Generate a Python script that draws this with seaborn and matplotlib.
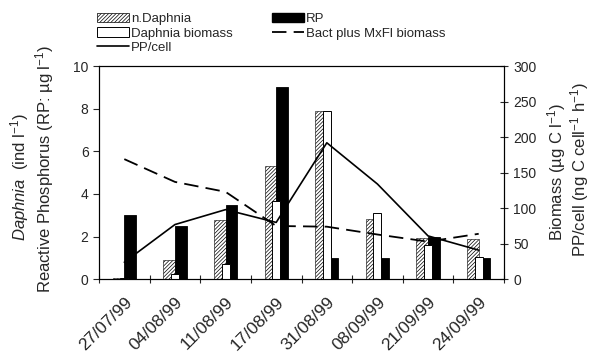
import numpy as np
import pandas as pd
import matplotlib
matplotlib.use("Agg")
import matplotlib.pyplot as plt
import seaborn as sns
from matplotlib.patches import Patch
from matplotlib.lines import Line2D

# ---- data ----
dates = ["27/07/99", "04/08/99", "11/08/99", "17/08/99",
         "31/08/99", "08/09/99", "21/09/99", "24/09/99"]
n_daphnia = [0.08, 0.9, 2.8, 5.3, 7.87, 2.85, 1.92, 1.9]          # ind l-1 (left)
rp = [3.0, 2.5, 3.5, 9.0, 1.0, 1.0, 2.0, 1.0]                      # ug l-1 (left)
daphnia_biomass = [2, 7, 22, 110, 237, 93, 48, 31]                 # ug C l-1 (right)
pp_cell = [24, 77, 98, 80, 192, 134, 61, 41]                       # right
bact_mxfl = [169, 137, 123, 75, 74, 63, 53, 64]                    # right

left_ticks = [0, 2, 4, 6, 8, 10]
right_ticks = [0, 50, 100, 150, 200, 250, 300]

sns.set_style("white")
plt.rcParams["font.family"] = ["Liberation Sans", "DejaVu Sans"]
plt.rcParams["mathtext.fontset"] = "custom"
plt.rcParams["mathtext.rm"] = "Liberation Sans"
plt.rcParams["mathtext.it"] = "Liberation Sans:italic"
plt.rcParams["hatch.linewidth"] = 0.5

HATCH = "/////////"

fig = plt.figure(figsize=(5.9, 3.54), dpi=100)
ax = fig.add_axes([99 / 590, 1 - 279.3 / 354, (504 - 99) / 590, (279.3 - 66) / 354])

df1 = pd.DataFrame({
    "date": dates * 2,
    "value": n_daphnia + rp,
    "series": ["n.Daphnia"] * len(dates) + ["RP"] * len(dates),
})
sns.barplot(data=df1, x="date", y="value", hue="series", order=dates,
            hue_order=["n.Daphnia", "RP"], palette=["white", "black"],
            width=0.46, dodge=True, edgecolor="black", linewidth=0.6,
            legend=False, ax=ax, errorbar=None)
for cont, hatch in zip(ax.containers, [HATCH, None]):
    for p in cont:
        if hatch:
            p.set_hatch(hatch)
            p.set_facecolor("white")
            p.set_edgecolor("black")
            p.set_linewidth(0.4)

ax.set_ylim(0, 10)
ax.set_yticks(left_ticks)
ax.set_xlim(-0.5, len(dates) - 0.5)
ax.set_xlabel("")
ax.set_ylabel("")

ax2 = ax.twinx()
df2 = pd.DataFrame({"date": dates, "biomass": daphnia_biomass})
sns.barplot(data=df2, x="date", y="biomass", order=dates, color="white",
            width=0.16, edgecolor="black", linewidth=0.7, ax=ax2,
            errorbar=None)
for p in ax2.patches:
    p.set_facecolor("white")
    p.set_zorder(2)

xpos = np.arange(len(dates))
sns.lineplot(x=xpos, y=pp_cell, color="black", linewidth=1.2, ax=ax2,
             sort=False)
sns.lineplot(x=xpos, y=bact_mxfl, color="black", linewidth=1.3,
             linestyle=(0, (8, 4)), ax=ax2, sort=False)
ax2.set_ylim(0, 300)
ax2.set_yticks(right_ticks)
ax2.set_xlim(-0.5, len(dates) - 0.5)
ax2.set_ylabel("")
ax2.set_xlabel("")

# ticks and spines
ax.set_xticks(np.arange(-0.5, len(dates) + 0.5, 1.0), minor=False)
ax.set_xticklabels([])
ax.set_xticks(xpos, minor=True)
ax.set_xticklabels(dates, minor=True, rotation=45, ha="right",
                   rotation_mode="anchor", fontsize=12.5)
ax.tick_params(axis="x", which="major", direction="inout", length=6,
               width=0.8, bottom=True)
ax.tick_params(axis="x", which="minor", length=0, pad=11)
ax.tick_params(axis="y", direction="out", length=4, width=0.8, labelsize=10,
               left=True)
ax2.tick_params(axis="y", direction="inout", length=6, width=0.8,
                labelsize=10, right=True)
for a in (ax, ax2):
    for s in a.spines.values():
        s.set_visible(True)
        s.set_color("black")
        s.set_linewidth(0.8)

# axis labels
fig.text(20 / 590, 1 - 177 / 354, r"$\it{Daphnia}$  (ind l$^{-1}$)",
         rotation=90, ha="center", va="center", fontsize=12)
fig.text(45 / 590, 1 - 169 / 354, r"Reactive Phosphorus (RP: µg l$^{-1}$)",
         rotation=90, ha="center", va="center", fontsize=12)
fig.text(557 / 590, 1 - 172 / 354, r"Biomass (µg C l$^{-1}$)",
         rotation=90, ha="center", va="center", fontsize=12)
fig.text(580 / 590, 1 - 170 / 354, r"PP/cell (ng C cell$^{-1}$ h$^{-1}$)",
         rotation=90, ha="center", va="center", fontsize=12)

# legend
handles = [
    Patch(facecolor="white", edgecolor="black", hatch=HATCH, linewidth=0.5),
    Patch(facecolor="white", edgecolor="black", linewidth=0.7),
    Line2D([], [], color="black", linewidth=1.2),
    Patch(facecolor="black", edgecolor="black"),
    Line2D([], [], color="black", linewidth=1.3, linestyle=(0, (8, 4))),
]
labels = ["n.Daphnia", "Daphnia biomass", "PP/cell", "RP",
          "Bact plus MxFl biomass"]
fig.legend(handles, labels, ncol=2, loc="upper left",
           bbox_to_anchor=(88 / 590, 1 - 4 / 354), frameon=False,
           fontsize=9.5, handlelength=2.4, handletextpad=0.15,
           labelspacing=0.15, columnspacing=3.0, borderpad=0.2)

fig.savefig("out.png", dpi=100)
